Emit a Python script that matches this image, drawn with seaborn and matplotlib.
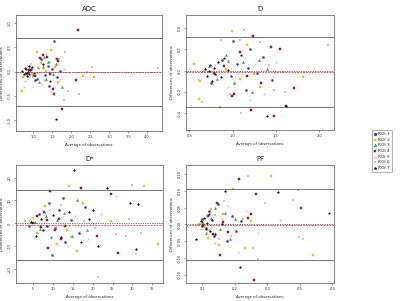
import numpy as np
import pandas as pd
import matplotlib
matplotlib.use('Agg')
import matplotlib.pyplot as plt
import seaborn as sns

sns.set_style('white')
plt.rcParams['font.family'] = ['DejaVu Sans']

roi_names = ['ROI 1', 'ROI 2', 'ROI 3', 'ROI 4', 'ROI 5', 'ROI 6', 'ROI 7']
roi_colors = ['#3a3fc0', '#e6c23a', '#2f9e44', '#9e1b2b', '#e3a6b8', '#8a8a8a', '#111111']
roi_markers = ['o', 's', '^', 's', 'x', '+', '*']

# ADC: averages (x) and differences (y) per ROI
adc_x = [
    [0.85, 0.95, 1.10, 1.22, 1.30, 1.38, 1.42, 1.50, 1.55, 1.63, 1.70, 1.05],
    [0.70, 0.74, 0.98, 1.09, 1.20, 1.35, 1.48, 1.58, 1.66, 2.30, 2.60, 1.12],
    [0.90, 1.00, 1.15, 1.25, 1.33, 1.40, 1.52, 1.60, 1.75, 1.28],
    [0.88, 1.05, 1.18, 1.26, 1.36, 1.44, 1.52, 1.62, 1.75, 2.17, 1.55, 2.13, 1.66],
    [0.78, 0.92, 1.12, 1.24, 1.35, 1.46, 1.58, 1.70, 1.82, 0.75],
    [0.80, 0.95, 1.15, 1.30, 1.45, 1.56, 1.68, 1.84, 1.93, 2.22, 2.55, 4.29, 2.43, 1.80],
    [0.72, 0.76, 0.78, 0.80, 0.82, 0.84, 0.86, 0.88, 0.90, 0.93, 0.97, 1.02, 1.60, 1.25, 1.45],
]
adc_y = [
    [-0.03, 0.06, -0.15, 0.25, -0.08, 0.12, -0.30, 0.05, 0.62, -0.12, 0.02, -0.18],
    [-0.39, -0.12, -0.05, 0.40, 0.18, 0.02, 0.45, 0.10, -0.22, -0.10, -0.12, 0.08],
    [0.05, -0.08, -0.22, 0.10, -0.15, 0.20, -0.05, 0.15, -0.32, 0.30],
    [0.03, -0.10, 0.28, 0.33, 0.30, -0.05, -0.35, 0.25, -0.77, 0.86, -0.47, -0.18, 0.22],
    [-0.20, 0.10, -0.02, -0.25, 0.35, -0.40, 0.28, -0.15, 0.05, -0.32],
    [-0.08, 0.15, 0.05, -0.20, 0.20, -0.48, 0.26, 0.40, -0.39, -0.47, 0.10, 0.08, 0.00, -0.58],
    [0.02, -0.05, 0.08, -0.02, 0.05, -0.10, 0.00, 0.12, -0.06, 0.03, 0.10, -0.04, -0.97, 0.15, -0.20],
]

# D
d_x = [
    [0.75, 0.88, 0.98, 1.05, 1.15, 1.20, 1.28, 1.35, 1.45, 1.00, 1.18],
    [0.55, 0.61, 0.85, 0.92, 0.99, 1.08, 1.16, 1.25, 1.32, 1.81, 0.62, 1.03],
    [0.72, 0.82, 0.92, 1.02, 1.12, 1.22, 1.30, 1.40, 0.95],
    [0.78, 0.90, 0.99, 1.08, 1.17, 1.23, 1.21, 1.33, 1.44, 1.48, 1.62, 1.71, 1.55, 1.02],
    [0.60, 0.80, 0.94, 1.06, 1.14, 1.26, 1.36, 1.50, 1.20, 0.66],
    [0.65, 0.87, 0.97, 1.08, 1.13, 1.31, 1.48, 1.58, 1.60, 2.10, 1.10, 1.42],
    [0.68, 0.70, 0.72, 0.74, 0.76, 0.78, 0.80, 0.83, 0.86, 0.90, 0.95, 1.40, 1.62, 1.10],
]
d_y = [
    [-0.12, 0.10, -0.05, 0.06, -0.18, 0.20, -0.02, 0.13, -0.09, 0.28, 0.03],
    [0.06, -0.27, -0.34, 0.02, 0.37, -0.08, 0.24, -0.03, -0.15, -0.06, -0.10, -0.12],
    [0.04, -0.08, 0.15, -0.12, 0.08, -0.20, 0.10, 0.02, 0.09],
    [-0.02, 0.04, -0.24, 0.18, -0.05, 0.33, -0.37, -0.12, 0.22, -0.43, -0.33, -0.16, 0.20, -0.22],
    [-0.08, 0.05, -0.15, -0.02, 0.12, 0.06, -0.22, 0.08, -0.28, 0.00],
    [-0.30, 0.29, -0.22, 0.29, 0.38, 0.27, -0.18, -0.01, -0.20, 0.24, -0.40, 0.05],
    [0.02, -0.05, 0.00, 0.05, -0.10, 0.03, -0.03, 0.08, -0.06, 0.12, 0.01, -0.43, -0.33, 0.15],
]

# D*
ds_x = [
    [4.0, 6.5, 7.5, 9.0, 10.5, 11.5, 13.0, 14.5, 16.5, 18.0, 9.8, 12.5],
    [3.0, 5.0, 6.0, 8.0, 11.0, 13.5, 14.2, 17.5, 24.5, 32.9, 36.3, 16.0],
    [5.5, 6.8, 8.2, 9.5, 11.0, 12.8, 14.8, 16.2, 18.5],
    [5.0, 6.0, 7.0, 7.8, 8.5, 9.4, 10.5, 11.5, 12.0, 17.1, 24.5, 26.3, 8.9, 13.2, 21.0],
    [4.2, 6.2, 9.0, 10.8, 13.8, 15.5, 18.8, 22.0, 25.8, 30.0],
    [6.5, 8.0, 10.2, 12.0, 14.5, 17.8, 20.5, 21.3, 25.8, 28.4, 29.1, 29.8, 31.0, 32.1],
    [4.5, 5.7, 7.0, 8.5, 10.0, 12.0, 14.0, 15.25, 17.0, 19.0, 21.3, 23.7, 29.4, 31.5, 31.0, 20.0],
]
ds_y = [
    [-1.0, 4.0, -3.0, 9.0, -2.0, 6.0, -8.0, 1.5, -4.0, 7.0, -14.0, 11.0],
    [1.0, 2.5, -4.0, 7.5, -9.0, -3.0, 16.5, 9.0, 1.0, 16.1, -9.2, -12.0],
    [0.5, -2.5, 3.0, -6.0, 1.5, 4.5, -5.5, 10.0, -3.0],
    [0.0, 3.0, -1.5, 5.0, 1.5, 14.3, -3.0, 2.0, -7.0, 15.6, 12.7, -12.8, -10.7, -1.0, -5.5],
    [2.0, -4.0, 6.0, -1.0, -10.0, 3.0, -7.0, 4.0, 12.1, -3.0],
    [-1.0, 4.5, -14.3, 8.0, -6.0, 1.0, -2.0, -23.4, -4.7, -5.3, 1.9, 16.8, -13.4, -4.4],
    [0.5, -5.5, 2.0, -1.0, 3.5, -6.0, 5.0, 23.1, -8.0, 2.0, -9.9, 15.3, 8.8, 8.3, -11.0, 6.0],
]

# PF
pf_x = [
    [0.100, 0.112, 0.122, 0.135, 0.148, 0.160, 0.175, 0.190, 0.205, 0.220],
    [0.090, 0.108, 0.118, 0.128, 0.150, 0.165, 0.195, 0.230, 0.312, 0.440, 0.250],
    [0.098, 0.113, 0.126, 0.140, 0.155, 0.170, 0.185, 0.200],
    [0.103, 0.118, 0.132, 0.145, 0.155, 0.165, 0.180, 0.214, 0.240, 0.265, 0.405, 0.260, 0.250],
    [0.095, 0.110, 0.125, 0.140, 0.160, 0.178, 0.210, 0.235, 0.270, 0.338],
    [0.105, 0.120, 0.138, 0.152, 0.168, 0.188, 0.225, 0.240, 0.255, 0.270, 0.294, 0.380, 0.397, 0.410, 0.395],
    [0.080, 0.095, 0.100, 0.105, 0.110, 0.115, 0.120, 0.125, 0.130, 0.140, 0.170, 0.215, 0.333, 0.490],
]
pf_y = [
    [0.015, -0.010, 0.040, -0.035, 0.060, 0.002, -0.050, 0.025, -0.020, 0.010],
    [0.002, -0.008, -0.040, 0.045, -0.060, 0.030, 0.105, -0.070, 0.145, -0.092, 0.010],
    [0.008, -0.025, 0.020, 0.050, -0.015, 0.035, -0.045, 0.015],
    [-0.002, 0.025, -0.030, 0.065, -0.090, 0.008, -0.022, 0.135, 0.020, 0.092, 0.048, -0.165, 0.030],
    [-0.015, 0.030, -0.012, -0.055, 0.018, 0.055, -0.083, 0.040, -0.025, 0.014],
    [0.005, -0.018, 0.028, -0.045, 0.070, -0.035, 0.015, 0.145, -0.070, -0.102, 0.065, 0.072, -0.037, -0.043, 0.103],
    [-0.043, 0.010, -0.005, 0.020, -0.015, 0.005, 0.030, -0.020, 0.012, -0.030, 0.100, -0.128, 0.097, 0.033],
]

# bias and limits of agreement
adc_lines = [-0.01, 0.69, -0.71]
d_lines = [-0.01, 0.316, -0.34]
ds_lines = [-0.6, 14.6, -15.8]
pf_lines = [-0.001, 0.105, -0.105]

panels = [
    ('ADC', adc_x, adc_y, adc_lines, (0.55, 4.39), (-1.22, 1.16),
     [1.0, 1.5, 2.0, 2.5, 3.0, 3.5, 4.0], [-1.0, -0.5, 0.0, 0.5, 1.0], '%.1f', '%.1f'),
    ('D', d_x, d_y, d_lines, (0.46, 2.17), (-0.56, 0.525),
     [0.5, 1.0, 1.5, 2.0], [-0.4, -0.2, 0.0, 0.2, 0.4], '%.1f', '%.1f'),
    ('D*', ds_x, ds_y, ds_lines, (0.8, 37.6), (-26, 25.5),
     [5, 10, 15, 20, 25, 30, 35], [-20, -10, 0, 10, 20], '%d', '%d'),
    ('PF', pf_x, pf_y, pf_lines, (0.05, 0.505), (-0.175, 0.178),
     [0.1, 0.2, 0.3, 0.4, 0.5], [-0.15, -0.10, -0.05, 0.0, 0.05, 0.10, 0.15], '%.1f', '%.2f'),
]

positions = [
    [0.040, 0.565, 0.365, 0.385],
    [0.465, 0.568, 0.370, 0.382],
    [0.040, 0.060, 0.367, 0.392],
    [0.465, 0.060, 0.370, 0.392],
]

fig = plt.figure(figsize=(4.0, 3.01), dpi=100)

for (title, xs, ys, lines, xlim, ylim, xt, yt, xf, yf), pos in zip(panels, positions):
    ax = fig.add_axes(pos)
    for i, name in enumerate(roi_names):
        df = pd.DataFrame({'avg': xs[i], 'diff': ys[i]})
        kw = dict(edgecolor=roi_colors[i]) if roi_markers[i] in ('o', 's', '^', '*') else {}
        sns.scatterplot(data=df, x='avg', y='diff', ax=ax, color=roi_colors[i],
                        marker=roi_markers[i], s=2.2, linewidth=0.35, label=name, legend=False, **kw)
    ax.axhline(0, color='black', linestyle=(0, (1, 1.5)), linewidth=0.5)
    ax.axhline(lines[0], color='#e03030', linestyle=(0, (2, 1.5)), linewidth=0.6)
    ax.axhline(lines[1], color='#444444', linewidth=0.5)
    ax.axhline(lines[2], color='#444444', linewidth=0.5)
    ax.set_xlim(*xlim)
    ax.set_ylim(*ylim)
    ax.set_xticks(xt)
    ax.set_yticks(yt)
    ax.set_xticklabels([xf % v for v in xt], fontsize=2.6, color='#333333')
    ax.set_yticklabels([yf % v for v in yt], fontsize=2.6, color='#333333', rotation=90, va='center')
    ax.tick_params(length=1.5, width=0.4, pad=1.5, color='#555555')
    ax.xaxis.set_ticks_position('bottom')
    ax.yaxis.set_ticks_position('left')
    for sp in ax.spines.values():
        sp.set_visible(True)
        sp.set_color('#555555')
        sp.set_linewidth(0.5)
    ax.set_title(title, fontsize=5, pad=3)
    ax.set_xlabel('Average of observations', fontsize=2.8, labelpad=3)
    ax.set_ylabel('Differences of observations', fontsize=2.8, labelpad=3)
    ax.grid(False)

handles, labels = fig.axes[0].get_legend_handles_labels()
leg = fig.legend(handles, labels, loc='center', bbox_to_anchor=(0.955, 0.498), fontsize=3.2,
                 frameon=True, fancybox=False, edgecolor='#555555', handletextpad=0.3,
                 handlelength=0.6, borderpad=0.5, labelspacing=0.35, markerscale=1.4)
leg.get_frame().set_linewidth(0.4)

fig.savefig('out.png', dpi=100)
